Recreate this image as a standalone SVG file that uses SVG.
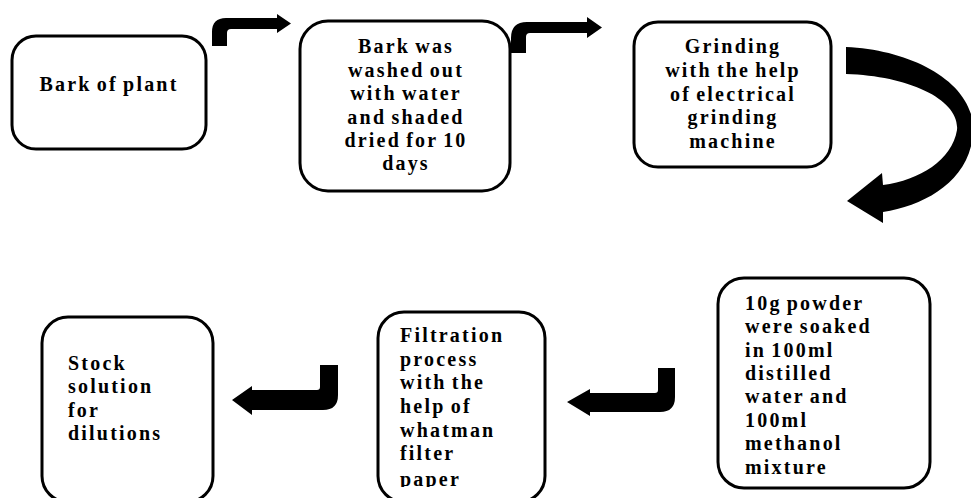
<svg xmlns="http://www.w3.org/2000/svg" width="971" height="498" viewBox="0 0 971 498">
<style>
.box{fill:#fff;stroke:#000;stroke-width:3}
.t{font-family:"Liberation Serif","Times New Roman",serif;font-weight:bold;font-size:20px;letter-spacing:2.2px;word-spacing:-2px;fill:#000}
.c{text-anchor:middle}
.arr{fill:#000}
</style>
<defs>
<clipPath id="clip5"><rect x="378" y="312" width="170" height="175"/></clipPath>
</defs>
<rect width="971" height="498" fill="#fff"/>
<g id="connectors">
<path class="arr" d="M212 46 L212 32 Q212 18 226 18 L277 18 L277 14 L291 23.5 L277 33 L277 29 L231 29 Q227 29 227 33 L227 46 Z"/>
<path class="arr" d="M511 53 L511 38 Q511 22 527 22 L587 22 L587 17 L602 27.5 L587 38 L587 33 L530 33 Q526 33 526 37 L526 53 Z"/>
<path class="arr" d="M846 47 C915 50 978 85 973 135 C968 182 925 205 883 212 L883 223 L847 201 L882 173 L883 185 C920 180 952 160 957 130 C960 100 910 76 846 74 Z"/>
<path class="arr" d="M658 368 L675 368 L675 397 Q675 412 660 412 L590 412 L590 416 L567 402 L590 389 L590 393 L655 393 Q658 393 658 390 Z"/>
<path class="arr" d="M320 365 L338 365 L338 395 Q338 410 323 410 L252 410 L252 415 L232 400 L252 386 L252 390 L317 390 Q320 390 320 387 Z"/>
</g>
<g id="n1">
<rect class="box" x="12" y="36" width="194" height="113" rx="24"/>
<text class="t c" x="109" y="91">Bark of plant</text>
</g>
<g id="n2">
<rect class="box" x="300" y="21" width="210" height="170" rx="28"/>
<text class="t c" x="406" y="53">Bark was</text>
<text class="t c" x="406" y="76.5">washed out</text>
<text class="t c" x="406" y="100">with water</text>
<text class="t c" x="406" y="123.5">and shaded</text>
<text class="t c" x="406" y="147">dried for 10</text>
<text class="t c" x="406" y="170">days</text>
</g>
<g id="n3">
<rect class="box" x="634" y="22" width="197" height="145" rx="24"/>
<text class="t c" x="733" y="53">Grinding</text>
<text class="t c" x="733" y="77">with the help</text>
<text class="t c" x="733" y="101">of electrical</text>
<text class="t c" x="733" y="124">grinding</text>
<text class="t c" x="733" y="148">machine</text>
</g>
<g id="n4">
<rect class="box" x="718" y="278" width="212" height="210" rx="26"/>
<text class="t" x="745" y="310">10g powder</text>
<text class="t" x="745" y="333">were soaked</text>
<text class="t" x="745" y="357">in 100ml</text>
<text class="t" x="745" y="380">distilled</text>
<text class="t" x="745" y="403">water and</text>
<text class="t" x="745" y="427">100ml</text>
<text class="t" x="745" y="450">methanol</text>
<text class="t" x="745" y="474">mixture</text>
</g>
<g id="n5">
<rect class="box" x="378" y="312" width="167" height="190" rx="26"/>
<g clip-path="url(#clip5)">
<text class="t" x="400" y="342">Filtration</text>
<text class="t" x="400" y="366">process</text>
<text class="t" x="400" y="389">with the</text>
<text class="t" x="400" y="413">help of</text>
<text class="t" x="400" y="437">whatman</text>
<text class="t" x="400" y="460">filter</text>
<text class="t" x="400" y="486">paper</text>
</g>
</g>
<g id="n6">
<rect class="box" x="42" y="317" width="171" height="185" rx="26"/>
<text class="t" x="68" y="370">Stock</text>
<text class="t" x="68" y="393">solution</text>
<text class="t" x="68" y="417">for</text>
<text class="t" x="68" y="440">dilutions</text>
</g>
</svg>
